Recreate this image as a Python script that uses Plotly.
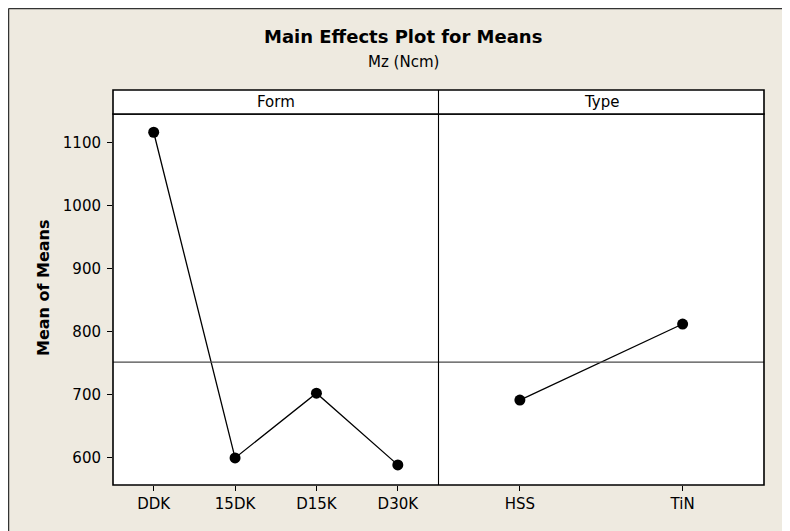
import plotly.graph_objects as go
from plotly.subplots import make_subplots

# ---- data ----
form_levels = ["DDK", "15DK", "D15K", "D30K"]
form_means = [1117, 599, 702, 588]
type_levels = ["HSS", "TiN"]
type_means = [691, 812]
grand_mean = 751.5
y_ticks = [600, 700, 800, 900, 1000, 1100]
panel_titles = ["Form", "Type"]

W, H = 800, 540
OFF = 8  # page body margin
L, R, T, B = 113, 764, 114, 485  # page pixel coords of plot area
pw, ph = R - L, B - T

def px(x):
    return (x - L) / pw

def py(y):
    return (B - y) / ph

BEIGE = "#eeeae0"
FONT = "DejaVu Sans"

fig = make_subplots(rows=1, cols=2, shared_yaxes=True, horizontal_spacing=0)

fig.add_trace(go.Scatter(x=form_levels, y=form_means, mode="lines+markers",
                         line=dict(color="black", width=1.3),
                         marker=dict(color="black", size=11),
                         showlegend=False), row=1, col=1)
fig.add_trace(go.Scatter(x=type_levels, y=type_means, mode="lines+markers",
                         line=dict(color="black", width=1.3),
                         marker=dict(color="black", size=11),
                         showlegend=False), row=1, col=2)

axis_common = dict(showline=False, showgrid=False, zeroline=False, ticks="outside", ticklen=5,
                   tickwidth=1.2, tickcolor="black",
                   tickfont=dict(family=FONT, size=15, color="black"))

fig.update_xaxes(**axis_common)
fig.update_xaxes(range=[-0.5, 3.5], row=1, col=1)
fig.update_xaxes(range=[-0.5, 1.5], row=1, col=2)
fig.update_yaxes(**axis_common)
fig.update_yaxes(range=[556, 1146], tickvals=y_ticks, ticklabelstandoff=3, row=1, col=1)
fig.update_yaxes(range=[556, 1146], tickvals=y_ticks, ticks="", showticklabels=False, row=1, col=2)

shapes = []
# grand mean reference line
shapes.append(dict(type="line", xref="paper", yref="y", x0=0, x1=1, y0=grand_mean, y1=grand_mean,
                   line=dict(color="#4a4a4a", width=1.2)))
# panel frame
shapes.append(dict(type="rect", xref="paper", yref="paper", x0=0, x1=1, y0=0, y1=1,
                   line=dict(color="black", width=1.6)))
# strips
s_top = py(90)
shapes.append(dict(type="rect", xref="paper", yref="paper", x0=0, x1=1, y0=1, y1=s_top,
                   fillcolor="white", line=dict(color="black", width=1.6)))
shapes.append(dict(type="line", xref="paper", yref="paper", x0=0.5, x1=0.5, y0=0, y1=s_top,
                   line=dict(color="black", width=1.1)))
# outer page border
shapes.append(dict(type="line", xref="paper", yref="paper", x0=px(8.6), x1=px(8.6), y0=py(8.6), y1=py(560),
                   line=dict(color="#333333", width=1.3)))
shapes.append(dict(type="line", xref="paper", yref="paper", x0=px(8.6), x1=px(820), y0=py(8.6), y1=py(8.6),
                   line=dict(color="#333333", width=1.3)))

annotations = [
    dict(text="<b>Main Effects Plot for Means</b>", xref="paper", yref="paper", x=px(403), y=py(36),
         showarrow=False, font=dict(family=FONT, size=18, color="black"), xanchor="center", yanchor="middle"),
    dict(text="Mz (Ncm)", xref="paper", yref="paper", x=px(403), y=py(62),
         showarrow=False, font=dict(family=FONT, size=15, color="black"), xanchor="center", yanchor="middle"),
    dict(text="<b>Mean of Means</b>", xref="paper", yref="paper", x=px(43), y=py(288), textangle=-90,
         showarrow=False, font=dict(family=FONT, size=16, color="black"), xanchor="center", yanchor="middle"),
]
for i, t in enumerate(panel_titles):
    annotations.append(dict(text=t, xref="paper", yref="paper", x=0.25 + 0.5 * i, y=(1 + s_top) / 2,
                            showarrow=False, font=dict(family=FONT, size=15, color="black"),
                            xanchor="center", yanchor="middle"))

fig.update_layout(width=W, height=H,
                  margin=dict(l=L - OFF, r=W - (R - OFF), t=T - OFF, b=H - (B - OFF)),
                  paper_bgcolor=BEIGE, plot_bgcolor="white", shapes=shapes, annotations=annotations,
                  showlegend=False)

fig.write_html("out.html")
